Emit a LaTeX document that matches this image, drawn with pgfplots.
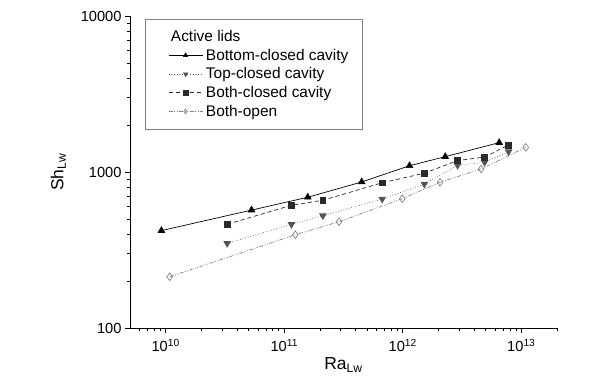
\documentclass[border=0pt]{standalone}
\usepackage{fontspec}
\setmainfont{Liberation Sans}
\usepackage{pgfplots}
\pgfplotsset{compat=1.18}
\definecolor{cTop}{HTML}{555555}
\definecolor{cBoth}{HTML}{2A2A2A}
\definecolor{cOpen}{HTML}{808080}
\pgfplotsset{
  legend image code/.code={\path (-12bp,0bp); \draw[mark repeat=2,mark phase=2,#1,mark size=2.4bp] plot coordinates {(0bp,0bp) (17bp,0bp) (34bp,0bp)};}
}
\begin{document}
\begin{tikzpicture}
\useasboundingbox (-130bp,-56bp) rectangle (461bp,328bp);
\begin{axis}[
  at={(0,0)}, anchor=south west,
  scale only axis, width=427bp, height=312bp,
  xmode=log, ymode=log,
  xmin=5e9, xmax=2e13, ymin=100, ymax=10000,
  axis x line*=bottom, axis y line*=left,
  axis line style={black, line width=0.8pt},
  tick align=outside,
  major tick length=5bp, minor tick length=3bp,
  every tick/.style={black, line width=0.7pt},
  xtick={1e10,1e11,1e12,1e13},
  xticklabels={10\textsuperscript{10},10\textsuperscript{11},10\textsuperscript{12},10\textsuperscript{13}},
  minor xtick={6e9,7e9,8e9,9e9,2e10,3e10,4e10,5e10,6e10,7e10,8e10,9e10,2e11,3e11,4e11,5e11,6e11,7e11,8e11,9e11,2e12,3e12,4e12,5e12,6e12,7e12,8e12,9e12,2e13},
  ytick={100,1000,10000},
  yticklabels={100,1000,10000},
  minor ytick={200,300,400,500,600,700,800,900,2000,3000,4000,5000,6000,7000,8000,9000},
  tick label style={font=\fontsize{14.7}{17}\selectfont},
  xticklabel style={yshift=-3bp},
  xlabel={Ra\textsubscript{Lw}}, ylabel={Sh\textsubscript{Lw}},
  label style={font=\fontsize{17.5}{19}\selectfont},
  xlabel style={yshift=1bp},
  ylabel style={yshift=8bp},
  legend cell align=left,
  legend style={at={(0.035,0.99)}, anchor=north west, draw=gray, line width=0.6pt,
    font=\fontsize{15.5}{18}\selectfont, row sep=0bp, inner xsep=11bp, inner ysep=8bp,
    nodes={inner sep=3bp}},
]
\addlegendimage{legend image code/.code={}}
\addlegendentry{\hspace*{-35bp}Active lids}
\addplot[black, solid, line width=0.7pt, mark=triangle*, mark size=3.8bp, mark options={solid, fill=black}] table {
x y
9.2e9 421
5.3e10 570
1.58e11 689
4.5e11 863
1.14e12 1097
2.28e12 1254
6.5e12 1542
};
\addlegendentry{Bottom-closed cavity}
\addplot[cTop, dotted, line width=0.7pt, mark=triangle*, mark size=3.8bp, mark options={solid, rotate=180, fill=cTop}] table {
x y
3.3e10 349
1.15e11 462
2.12e11 525
6.7e11 671
1.52e12 837
2.9e12 1103
4.9e12 1153
7.8e12 1349
};
\addlegendentry{Top-closed cavity}
\addplot[cBoth, dash pattern=on 4bp off 3bp, line width=0.7pt, mark=square*, mark size=2.9bp, mark options={solid, fill=cBoth}] table {
x y
3.3e10 462
1.15e11 612
2.12e11 659
6.7e11 853
1.52e12 982
2.9e12 1183
4.9e12 1248
7.8e12 1490
};
\addlegendentry{Both-closed cavity}
\addplot[cOpen, dash pattern=on 4bp off 1.5bp on 1bp off 1.5bp on 1bp off 1.5bp, line width=0.7pt, mark=diamond, mark size=3.8bp, mark options={solid, fill=white, draw=cOpen}] table {
x y
1.08e10 213
1.24e11 396
2.9e11 480
9.9e11 674
2.06e12 859
4.58e12 1045
1.09e13 1439
};
\addlegendentry{Both-open}
\end{axis}
\end{tikzpicture}
\end{document}
